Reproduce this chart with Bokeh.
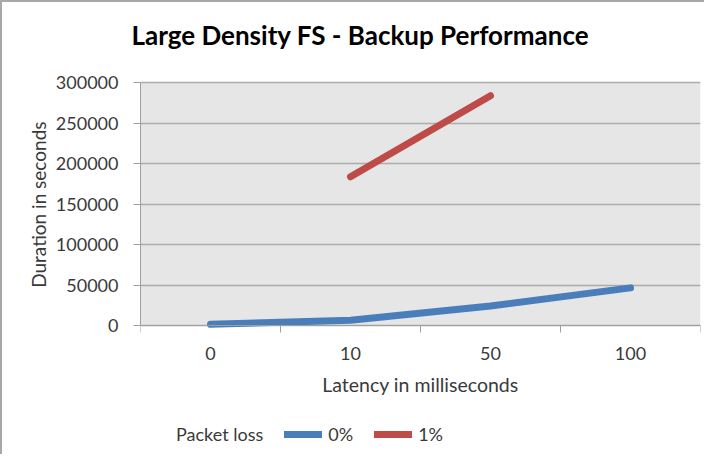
import math
from bokeh.plotting import figure
from bokeh.models import (Range1d, FixedTicker, SingleIntervalTicker, NumeralTickFormatter,
                          Legend, LegendItem, ColumnDataSource, BoxAnnotation, Title)
from bokeh.embed import file_html
from bokeh.resources import INLINE

# ---- data ----
categories = ["0", "10", "50", "100"]          # latency in milliseconds
loss_0 = [2000, 7000, 24500, 47000]            # packet loss 0%
loss_1 = [math.nan, 184000, 284000, math.nan]  # packet loss 1%
series_names = ["0%", "1%"]
legend_title = "Packet loss"
y_min, y_max, y_step = 0, 300000, 50000

FONT = "Lato"
GRAY_AX = "#9f9f9f"
TXT = "#3a3a3a"
BLUE = "#4a7ebb"
RED = "#be4b48"

xs = list(range(len(categories)))
src = ColumnDataSource(dict(x=xs, a=loss_0, b=loss_1))

# the frame is extended above and below the value area so the legend (below the
# x axis) is drawn inside the frame; the grey plot area is a box over 0..300000
p = figure(width=704, height=454, output_backend="svg", toolbar_location=None,
           x_range=Range1d(-0.5, len(categories) - 0.5), y_range=Range1d(-150000, 330000),
           min_border_left=138, min_border_right=6, min_border_top=56, min_border_bottom=9,
           background_fill_color="white", border_fill_color="white",
           styles={"border-top": "2px solid #a8a8a8", "border-left": "2px solid #a8a8a8"})
p.outline_line_color = None

p.add_layout(BoxAnnotation(bottom=y_min, top=y_max, fill_color="#e6e6e6", fill_alpha=1,
                           line_color=None, level="image"))

# title
p.title.text = "Large Density FS - Backup Performance"
p.title.align = "left"
p.title.offset = -9
p.title.vertical_align = "top"
p.title.text_font = FONT
p.title.text_font_size = "26px"
p.title.text_font_style = "bold"
p.title.text_color = "black"
p.title.standoff = 11

# grids
p.xgrid.grid_line_color = None
p.ygrid.grid_line_color = "#ababab"
p.ygrid.grid_line_width = 1.5
p.ygrid.bounds = (y_min, y_max)

# y axis
p.yaxis.ticker = SingleIntervalTicker(interval=y_step)
p.yaxis.bounds = (y_min, y_max)
p.yaxis.formatter = NumeralTickFormatter(format="0")
p.yaxis.axis_line_color = GRAY_AX
p.yaxis.major_tick_line_color = GRAY_AX
p.yaxis.major_tick_in = 0
p.yaxis.major_tick_out = 7
p.yaxis.minor_tick_line_color = None
p.yaxis.major_label_standoff = 15

# y axis title, centred on the grey value area (not on the extended frame)
p.add_layout(Title(text="Duration in seconds", align="right", offset=63,
                   vertical_align="bottom", standoff=6, text_font=FONT,
                   text_font_size="19px", text_font_style="normal", text_color=TXT), "left")

# x axis: drawn at y=0, labels at category centres, tick marks on category boundaries
p.xaxis.fixed_location = y_min
p.xaxis.ticker = FixedTicker(ticks=xs, minor_ticks=[i - 0.5 for i in range(len(categories) + 1)])
p.xaxis.major_label_overrides = {i: c for i, c in zip(xs, categories)}
p.xaxis.axis_label = "Latency in milliseconds"
p.xaxis.axis_line_color = GRAY_AX
p.xaxis.major_tick_line_color = None
p.xaxis.major_tick_in = 0
p.xaxis.major_tick_out = 7
p.xaxis.minor_tick_line_color = GRAY_AX
p.xaxis.minor_tick_in = 0
p.xaxis.minor_tick_out = 7
p.xaxis.major_label_standoff = 14
p.xaxis.axis_label_standoff = 10

for ax in (p.xaxis, p.yaxis):
    ax.major_label_text_font = FONT
    ax.major_label_text_font_size = "18px"
    ax.major_label_text_color = TXT
    ax.axis_label_text_font = FONT
    ax.axis_label_text_font_size = "19.5px"
    ax.axis_label_text_font_style = "normal"
    ax.axis_label_text_color = TXT

# lines
r_dummy = p.line(x=[], y=[], line_alpha=0)
r0 = p.line("x", "a", source=src, line_color=BLUE, line_width=7,
            line_cap="round", line_join="round")
r1 = p.line("x", "b", source=src, line_color=RED, line_width=7,
            line_cap="round", line_join="round")

legend = Legend(items=[LegendItem(label=legend_title, renderers=[r_dummy]),
                       LegendItem(label=series_names[0], renderers=[r0]),
                       LegendItem(label=series_names[1], renderers=[r1])],
                orientation="horizontal", location=(-8, 2),
                glyph_width=38, glyph_height=22, label_standoff=6, spacing=21,
                padding=0, margin=0, border_line_color=None, background_fill_alpha=0,
                label_text_font=FONT, label_text_font_size="18px", label_text_color=TXT)
p.add_layout(legend, "center")

open("out.html", "w").write(file_html(p, INLINE))
